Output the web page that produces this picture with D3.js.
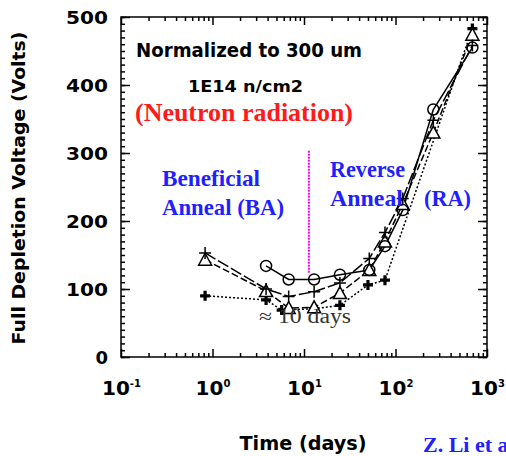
<!DOCTYPE html>
<html><head><meta charset="utf-8">
<script src="https://cdn.jsdelivr.net/npm/d3@7"></script>
<style>body{margin:0;background:#fff}svg{display:block}</style>
</head><body>
<svg id="c" width="506" height="456"></svg>
<script>
// ---- data ----
const xTicks = [0.1, 1, 10, 100, 1000];
const xTickExp = ["-1", "0", "1", "2", "3"];
const yTicks = [0, 100, 200, 300, 400, 500];

const circleT = [3.85, 6.8, 12.9, 24.7, 51.7, 76.7, 120, 259, 692];
const circleV = [134, 114, 114, 121, 128, 163, 216, 364, 455];

const plusT = [0.83, 3.85, 6.8, 12.9, 24.7, 51.7, 76.7, 120, 259, 692];
const plusV = [153, 100, 89, 96, 109, 145, 183, 233, 348, 458];

const triT = [0.83, 3.85, 6.8, 12.9, 24.7, 51.7, 76.7, 120, 259, 692];
const triV = [143, 97, 72, 73, 94, 128, 170, 225, 330, 474];

const boldT = [0.83, 3.85, 5.7, 12.9, 24.7, 50, 76.7, 692];
const boldV = [90, 84, 69, 71, 76, 106, 113, 483];

const markerT = 11.3;
const markerV = [124, 304];

// ---- layout ----
const svg = d3.select("#c");
const L = 121, R = 487, T = 17, B = 357;
const x = d3.scaleLog().domain([0.1, 1000]).range([L, R]);
const y = d3.scaleLinear().domain([0, 500]).range([B, T]);

const minorX = [];
[0.1, 1, 10, 100].forEach(d => { for (let k = 2; k <= 9; k++) minorX.push(d * k); });
const minorY = d3.range(0, 501, 10);

function styleAxis(g) {
  g.select(".domain").remove();
  g.selectAll("line").attr("stroke", "#000").attr("stroke-width", 1.5);
}

// minor ticks
svg.append("g").attr("transform", `translate(0,${B})`)
  .call(d3.axisBottom(x).tickValues(minorX).tickSize(-4).tickFormat("")).call(styleAxis);
svg.append("g").attr("transform", `translate(0,${T})`)
  .call(d3.axisTop(x).tickValues(minorX).tickSize(-4).tickFormat("")).call(styleAxis);
svg.append("g").attr("transform", `translate(${L},0)`)
  .call(d3.axisLeft(y).tickValues(minorY).tickSize(-4).tickFormat("")).call(styleAxis);
svg.append("g").attr("transform", `translate(${R},0)`)
  .call(d3.axisRight(y).tickValues(minorY).tickSize(-4).tickFormat("")).call(styleAxis);

// major ticks
const gxb = svg.append("g").attr("transform", `translate(0,${B})`)
  .call(d3.axisBottom(x).tickValues(xTicks).tickSize(-8).tickPadding(24).tickFormat(() => ""))
  .call(styleAxis);
svg.append("g").attr("transform", `translate(0,${T})`)
  .call(d3.axisTop(x).tickValues(xTicks).tickSize(-8).tickFormat("")).call(styleAxis);
const gyl = svg.append("g").attr("transform", `translate(${L},0)`)
  .call(d3.axisLeft(y).tickValues(yTicks).tickSize(-9).tickPadding(13).tickFormat(d3.format("d")))
  .call(styleAxis);
svg.append("g").attr("transform", `translate(${R},0)`)
  .call(d3.axisRight(y).tickValues(yTicks).tickSize(-9).tickFormat("")).call(styleAxis);

gyl.selectAll("text")
  .attr("font-family", "DejaVu Sans").attr("font-weight", "bold").attr("font-size", 18)
  .attr("fill", "#000").attr("dy", "0.38em")
  .each(function(d){ if (d >= 100) d3.select(this).attr("textLength", 42).attr("lengthAdjust", "spacingAndGlyphs"); });

gxb.selectAll(".tick text").each(function(d, i) {
  const t = d3.select(this).text(null)
    .attr("font-family", "DejaVu Sans").attr("font-weight", "bold").attr("fill", "#000")
    .attr("y", 38).attr("dy", 0).attr("text-anchor", "middle");
  t.append("tspan").attr("font-size", 20).text("10");
  t.append("tspan").attr("font-size", 10).attr("dy", -8).text(xTickExp[i]);
});

// frame
svg.append("rect").attr("x", L).attr("y", T).attr("width", R - L).attr("height", B - T)
  .attr("fill", "none").attr("stroke", "#000").attr("stroke-width", 1.5);

// magenta marker line
svg.append("line")
  .attr("x1", x(markerT)).attr("x2", x(markerT))
  .attr("y1", y(markerV[0])).attr("y2", y(markerV[1]))
  .attr("stroke", "#ff00ff").attr("stroke-width", 2).attr("stroke-dasharray", "2,1");

// lines
function zip(ts, vs) { return ts.map((t, i) => [t, vs[i]]); }
const line = d3.line().x(d => x(d[0])).y(d => y(d[1]));
function drawLine(ts, vs, dash) {
  svg.append("path").datum(zip(ts, vs)).attr("d", line)
    .attr("fill", "none").attr("stroke", "#000").attr("stroke-width", 1.5)
    .attr("stroke-dasharray", dash);
}
drawLine(boldT, boldV, "2,2");
drawLine(triT, triV, "7,3");
drawLine(plusT, plusV, "12,3");
drawLine(circleT, circleV, null);

// markers
svg.append("g").selectAll("path").data(zip(boldT, boldV)).join("path")
  .attr("d", "M-5,0H5M0,-5V5")
  .attr("transform", d => `translate(${x(d[0])},${y(d[1])})`)
  .attr("stroke", "#000").attr("stroke-width", 3.2).attr("fill", "none");
svg.append("g").selectAll("path").data(zip(triT, triV)).join("path")
  .attr("d", "M0,-6.5L6.5,5.5H-6.5Z")
  .attr("transform", d => `translate(${x(d[0])},${y(d[1])})`)
  .attr("stroke", "#000").attr("stroke-width", 1.5).attr("fill", "#fff");
svg.append("g").selectAll("path").data(zip(plusT, plusV)).join("path")
  .attr("d", "M-6,0H6M0,-6V6")
  .attr("transform", d => `translate(${x(d[0])},${y(d[1])})`)
  .attr("stroke", "#000").attr("stroke-width", 1.5).attr("fill", "none");
svg.append("g").selectAll("circle").data(zip(circleT, circleV)).join("circle")
  .attr("cx", d => x(d[0])).attr("cy", d => y(d[1])).attr("r", 5.5)
  .attr("stroke", "#000").attr("stroke-width", 1.5).attr("fill", "none");

// texts
function txt(s, px, py, o) {
  const t = svg.append("text").attr("x", px).attr("y", py).text(s)
    .attr("font-family", o.ff || "DejaVu Sans").attr("font-weight", o.fw || "bold")
    .attr("font-size", o.fs).attr("fill", o.fill || "#000")
    .attr("text-anchor", o.anchor || "start");
  if (o.len) t.attr("textLength", o.len).attr("lengthAdjust", "spacingAndGlyphs");
  if (o.tr) t.attr("transform", o.tr);
  return t;
}
txt("Normalized to 300 um", 136, 57, {fs: 19, len: 226});
txt("1E14 n/cm2", 188, 92, {fs: 16, len: 115});
txt("(Neutron radiation)", 135, 121, {fs: 25, ff: "Liberation Serif", fill: "#ff1a1a", len: 218});
txt("Beneficial", 162, 186, {fs: 23, ff: "Liberation Serif", fill: "#1f1fff", len: 98});
txt("Anneal (BA)", 162, 215, {fs: 23, ff: "Liberation Serif", fill: "#1f1fff", len: 122});
txt("Reverse", 330, 177, {fs: 23, ff: "Liberation Serif", fill: "#1f1fff", len: 75});
txt("Anneal", 330, 206, {fs: 23, ff: "Liberation Serif", fill: "#1f1fff", len: 73});
txt("(RA)", 424, 206, {fs: 23, ff: "Liberation Serif", fill: "#1f1fff", len: 47});
txt("\u2248 10 days", 259, 323, {fs: 20, ff: "Liberation Serif", fw: "normal", fill: "#333", len: 92});
txt("Z. Li et al.", 423, 452, {fs: 22, ff: "Liberation Serif", fill: "#1f1fff"});
txt("Time (days)", 303, 450, {fs: 19, anchor: "middle", len: 127});
txt("Full Depletion Voltage (Volts)", 0, 0, {fs: 17, anchor: "middle", len: 313, tr: "translate(25,188) rotate(-90)"});
</script>
</body></html>
